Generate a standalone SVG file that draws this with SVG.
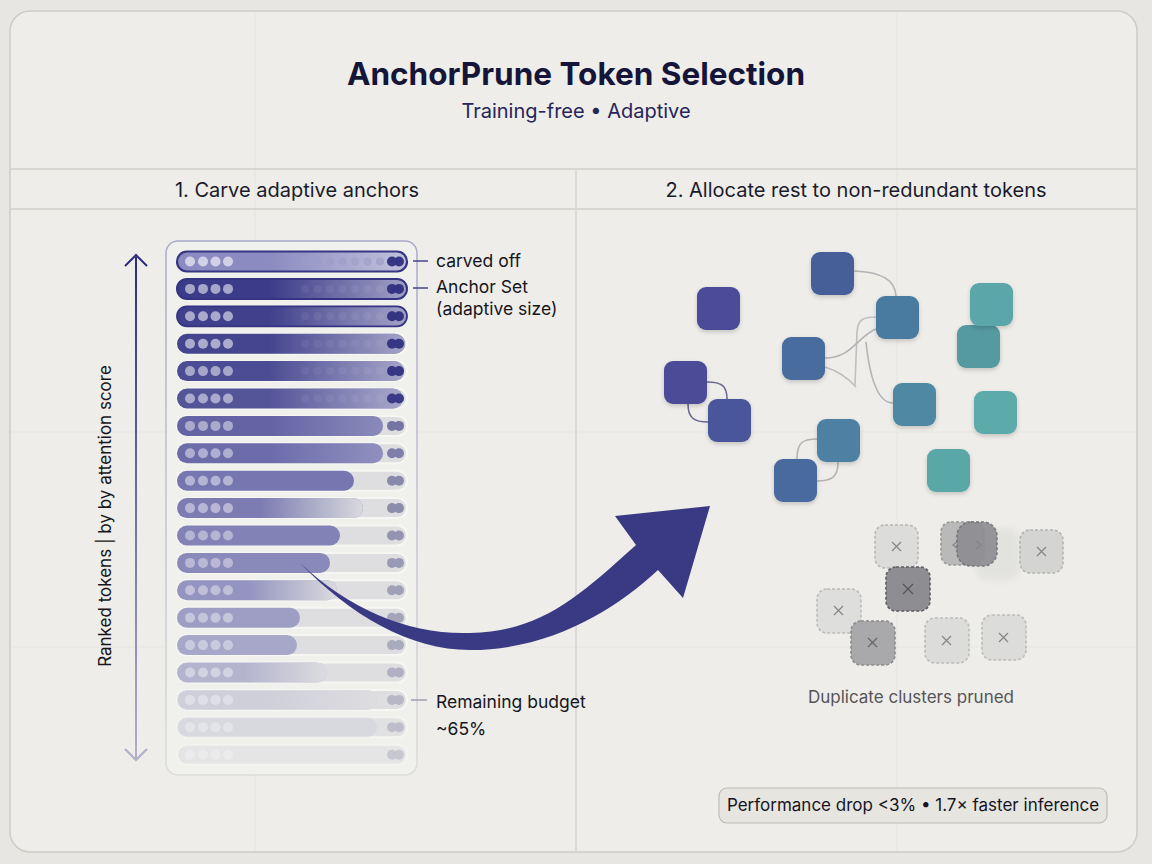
<svg xmlns="http://www.w3.org/2000/svg" xmlns:xlink="http://www.w3.org/1999/xlink" width="1152" height="864" viewBox="0 0 1152 864">
<style>
text{font-family:Inter,"Liberation Sans","DejaVu Sans",sans-serif}
.title{font-size:31.5px;font-weight:700;fill:#15153a;text-anchor:middle}
.sub{font-size:20px;fill:#25255a;text-anchor:middle}
.hdr{font-size:20px;fill:#1b1b2b;text-anchor:middle}
.lbl{font-size:17.5px;fill:#161620}
.trk{fill:#dedee0;stroke:#f6f6f3;stroke-width:2}
.nd{filter:url(#sh)}
.pr{stroke-dasharray:3 2;stroke-width:1.6}
.x{stroke:#858585;stroke-width:1.2;fill:none}
.lnk{fill:none;stroke:#b3b3b6;stroke-width:1.6}
.grid{stroke:#e6e5e1;stroke-width:1}
</style>
<defs>
<filter id="sh" x="-30%" y="-30%" width="160%" height="170%"><feDropShadow dx="0" dy="2" stdDeviation="2" flood-color="#000" flood-opacity="0.18"/></filter>
<filter id="blur"><feGaussianBlur stdDeviation="3"/></filter>
<linearGradient id="fadeFull" x1="177" y1="0" x2="407" y2="0" gradientUnits="userSpaceOnUse">
<stop offset="0.4" stop-color="#e4e4ee" stop-opacity="0"/><stop offset="1" stop-color="#e4e4ee" stop-opacity="0.6"/></linearGradient>
<linearGradient id="fadeEnd" x1="0" y1="0" x2="1" y2="0">
<stop offset="0.45" stop-color="#dedee0" stop-opacity="0"/><stop offset="1" stop-color="#dedee0" stop-opacity="0.95"/></linearGradient>
<linearGradient id="axis" x1="0" y1="255" x2="0" y2="760" gradientUnits="userSpaceOnUse">
<stop offset="0" stop-color="#2c2c7e"/><stop offset="1" stop-color="#b0b0cc"/></linearGradient>
<linearGradient id="cont" x1="0" y1="241" x2="0" y2="775" gradientUnits="userSpaceOnUse">
<stop offset="0" stop-color="#a9a9c9"/><stop offset="1" stop-color="#dcdcdc"/></linearGradient>
<g id="d4" fill="#fff"><circle cx="190" cy="0" r="5"/><circle cx="203" cy="0" r="5"/><circle cx="215.5" cy="0" r="5"/><circle cx="228" cy="0" r="5"/></g>
<g id="md"><circle cx="305" cy="0" r="4"/><circle cx="317.5" cy="0" r="4"/><circle cx="330" cy="0" r="4"/><circle cx="342.5" cy="0" r="4"/><circle cx="355" cy="0" r="4"/><circle cx="367.5" cy="0" r="4"/><circle cx="380" cy="0" r="4"/></g>
<g id="dd"><circle cx="392" cy="0" r="5"/><circle cx="399" cy="0" r="5"/></g>
</defs>

<rect width="1152" height="864" fill="#e7e6e2"/>
<rect x="10" y="11" width="1127" height="841" rx="20" fill="#eeede9" stroke="#cdccc7" stroke-width="1.5"/>
<g id="grid">
<line class="grid" x1="255" y1="12" x2="255" y2="851"/>
<line class="grid" x1="897" y1="12" x2="897" y2="851"/>
<line class="grid" x1="11" y1="432" x2="1136" y2="432"/>
<line class="grid" x1="11" y1="647" x2="1136" y2="647"/>
</g>
<line x1="11" y1="169" x2="1136" y2="169" stroke="#cfcec9" stroke-width="1.5"/>
<line x1="11" y1="209" x2="1136" y2="209" stroke="#cfcec9" stroke-width="1.5"/>
<line x1="576" y1="169" x2="576" y2="851" stroke="#d4d3ce" stroke-width="1.5"/>

<g id="header">
<text class="title" x="576" y="85">AnchorPrune Token Selection</text>
<text class="sub" x="576" y="118">Training-free • Adaptive</text>
<text class="hdr" x="297" y="197">1. Carve adaptive anchors</text>
<text class="hdr" x="856" y="197">2. Allocate rest to non-redundant tokens</text>
</g>

<g id="axis-label">
<line x1="136" y1="257" x2="136" y2="758" stroke="url(#axis)" stroke-width="2"/>
<polyline points="125,266 136,255 147,266" fill="none" stroke="#2c2c7e" stroke-width="2"/>
<polyline points="125,749 136,760 147,749" fill="none" stroke="#adadc8" stroke-width="2"/>
<text transform="translate(111,516) rotate(-90)" text-anchor="middle" style="font-size:17px;fill:#161620">Ranked tokens | by by attention score</text>
</g>

<g id="token-list">
<rect x="166" y="241" width="251" height="534" rx="12" fill="#f0f0ed" stroke="url(#cont)" stroke-width="1.5"/>
<g id="row1" transform="translate(0,261.5)">
<rect x="177" y="-10" width="230" height="20" rx="10" fill="#ececf0"/>
<rect x="177" y="-10" width="230" height="20" rx="10" fill="#8b8bc1"/>
<rect x="177" y="-10" width="230" height="20" rx="10" fill="url(#fadeFull)"/>
<rect x="177" y="-10" width="230" height="20" rx="10" fill="none" stroke="#363684" stroke-width="2.2"/>
<use href="#d4" opacity="0.6"/><use href="#md" fill="#9c9cc8" opacity="0.6"/><use href="#dd" fill="#363684"/>
</g>
<g id="row2" transform="translate(0,288.9)">
<rect x="177" y="-10" width="230" height="20" rx="10" fill="#3b3b89"/>
<rect x="177" y="-10" width="230" height="20" rx="10" fill="url(#fadeFull)"/>
<rect x="177" y="-10" width="230" height="20" rx="10" fill="none" stroke="#343482" stroke-width="2"/>
<use href="#d4" opacity="0.55"/><use href="#md" fill="#fff" opacity="0.06"/><use href="#dd" fill="#343482"/>
</g>
<g id="row3" transform="translate(0,316.3)">
<rect x="177" y="-10" width="230" height="20" rx="10" fill="#40408c"/>
<rect x="177" y="-10" width="230" height="20" rx="10" fill="url(#fadeFull)"/>
<rect x="177" y="-10" width="230" height="20" rx="10" fill="none" stroke="#343482" stroke-width="1.8"/>
<use href="#d4" opacity="0.55"/><use href="#md" fill="#fff" opacity="0.06"/><use href="#dd" fill="#343482"/>
</g>
<g id="row4" transform="translate(0,343.7)">
<rect class="trk" x="177" y="-10" width="230" height="20" rx="10"/>
<rect x="177" y="-10" width="228" height="20" rx="10" fill="#45458f"/>
<rect x="177" y="-10" width="228" height="20" rx="10" fill="url(#fadeFull)"/>
<use href="#d4" opacity="0.55"/><use href="#md" fill="#fff" opacity="0.05"/><use href="#dd" fill="#363684"/>
</g>
<g id="row5" transform="translate(0,371.1)">
<rect class="trk" x="177" y="-10" width="230" height="20" rx="10"/>
<rect x="177" y="-10" width="227" height="20" rx="10" fill="#4c4c94"/>
<rect x="177" y="-10" width="227" height="20" rx="10" fill="url(#fadeFull)"/>
<use href="#d4" opacity="0.5"/><use href="#md" fill="#fff" opacity="0.05"/><use href="#dd" fill="#363684"/>
</g>
<g id="row6" transform="translate(0,398.5)">
<rect class="trk" x="177" y="-10" width="230" height="20" rx="10"/>
<rect x="177" y="-10" width="226" height="20" rx="10" fill="#545499"/>
<rect x="177" y="-10" width="226" height="20" rx="10" fill="url(#fadeFull)"/>
<use href="#d4" opacity="0.5"/><use href="#md" fill="#fff" opacity="0.05"/><use href="#dd" fill="#3a3a86"/>
</g>
<g id="row7" transform="translate(0,425.9)">
<rect class="trk" x="177" y="-10" width="230" height="20" rx="10"/>
<rect x="177" y="-10" width="206" height="20" rx="10" fill="#6464a5"/>
<rect x="177" y="-10" width="206" height="20" rx="10" fill="url(#fadeFull)" opacity="0.6"/>
<use href="#d4" opacity="0.45"/><use href="#dd" fill="#6a6a9e" opacity="0.9"/>
</g>
<g id="row8" transform="translate(0,453.3)">
<rect class="trk" x="177" y="-10" width="230" height="20" rx="10"/>
<rect x="177" y="-10" width="206" height="20" rx="10" fill="#6c6cab"/>
<rect x="177" y="-10" width="206" height="20" rx="10" fill="url(#fadeFull)" opacity="0.6"/>
<use href="#d4" opacity="0.45"/><use href="#dd" fill="#6e6ea0" opacity="0.85"/>
</g>
<g id="row9" transform="translate(0,480.7)">
<rect class="trk" x="177" y="-10" width="230" height="20" rx="10"/>
<rect x="177" y="-10" width="177" height="20" rx="10" fill="#7676b0"/>
<use href="#d4" opacity="0.45"/><use href="#dd" fill="#74749e" opacity="0.8"/>
</g>
<g id="row10" transform="translate(0,508.1)">
<rect class="trk" x="177" y="-10" width="230" height="20" rx="10"/>
<rect x="177" y="-10" width="186" height="20" rx="10" fill="#7c7cb3"/>
<rect x="177" y="-10" width="186" height="20" rx="10" fill="url(#fadeEnd)"/>
<use href="#d4" opacity="0.45"/><use href="#dd" fill="#78789e" opacity="0.8"/>
</g>
<g id="row11" transform="translate(0,535.5)">
<rect class="trk" x="177" y="-10" width="230" height="20" rx="10"/>
<rect x="177" y="-10" width="163" height="20" rx="10" fill="#8282b6"/>
<use href="#d4" opacity="0.4"/><use href="#dd" fill="#7c7ca0" opacity="0.75"/>
</g>
<g id="row12" transform="translate(0,562.9)">
<rect class="trk" x="177" y="-10" width="230" height="20" rx="10"/>
<rect x="177" y="-10" width="153" height="20" rx="10" fill="#8a8aba"/>
<use href="#d4" opacity="0.4"/><use href="#dd" fill="#7e7ea2" opacity="0.7"/>
</g>
<g id="row13" transform="translate(0,590.3)">
<rect class="trk" x="177" y="-10" width="230" height="20" rx="10"/>
<rect x="177" y="-10" width="160" height="20" rx="10" fill="#9494c0"/>
<rect x="177" y="-10" width="160" height="20" rx="10" fill="url(#fadeEnd)"/>
<use href="#d4" opacity="0.4"/><use href="#dd" fill="#8080a2" opacity="0.65"/>
</g>
<g id="row14" transform="translate(0,617.7)">
<rect class="trk" x="177" y="-10" width="230" height="20" rx="10"/>
<rect x="177" y="-10" width="123" height="20" rx="10" fill="#9e9ec5"/>
<use href="#d4" opacity="0.4"/><use href="#dd" fill="#8080a2" opacity="0.6"/>
</g>
<g id="row15" transform="translate(0,645.1)">
<rect class="trk" x="177" y="-10" width="230" height="20" rx="10"/>
<rect x="177" y="-10" width="120" height="20" rx="10" fill="#a7a7c9"/>
<use href="#d4" opacity="0.4"/><use href="#dd" fill="#8282a4" opacity="0.55"/>
</g>
<g id="row16" transform="translate(0,672.5)">
<rect class="trk" x="177" y="-10" width="230" height="20" rx="10"/>
<rect x="177" y="-10" width="150" height="20" rx="10" fill="#b4b4cf"/>
<rect x="177" y="-10" width="150" height="20" rx="10" fill="url(#fadeEnd)"/>
<use href="#d4" opacity="0.4"/><use href="#dd" fill="#8484a6" opacity="0.5"/>
</g>
<g id="row17" transform="translate(0,699.9)">
<rect class="trk" x="177" y="-10" width="230" height="20" rx="10"/>
<rect x="177" y="-10" width="200" height="20" rx="10" fill="#c4c4d6" opacity="0.6"/>
<rect x="177" y="-10" width="200" height="20" rx="10" fill="url(#fadeEnd)"/>
<use href="#d4" opacity="0.35"/><use href="#dd" fill="#8888a8" opacity="0.45"/>
</g>
<g id="row18" transform="translate(0,727.3)">
<rect class="trk" x="177" y="-10" width="230" height="20" rx="10" opacity="0.8"/>
<rect x="177" y="-10" width="200" height="20" rx="10" fill="#cfcfdc" opacity="0.45"/>
<use href="#d4" opacity="0.3"/><use href="#dd" fill="#8c8caa" opacity="0.4"/>
</g>
<g id="row19" transform="translate(0,754.7)">
<rect class="trk" x="177" y="-10" width="230" height="20" rx="10" opacity="0.6"/>
<use href="#d4" opacity="0.25"/><use href="#dd" fill="#9090ac" opacity="0.35"/>
</g>
</g>

<g id="labels">
<text class="lbl" x="436" y="267">carved off</text>
<text class="lbl" x="436" y="293">Anchor Set</text>
<text class="lbl" x="436" y="315">(adaptive size)</text>
<text class="lbl" x="436" y="708">Remaining budget</text>
<text class="lbl" x="436" y="735">~65%</text>
</g>

<g id="connectors">
<line x1="413" y1="261" x2="428" y2="261" stroke="#44448a" stroke-width="1.5"/>
<line x1="413" y1="288" x2="428" y2="288" stroke="#44448a" stroke-width="1.5"/>
<line x1="411" y1="700" x2="427" y2="700" stroke="#a0a0b0" stroke-width="1.5"/>
<path d="M300,563 C350,610 410,635 470,633 C540,631 575,600 636,545 L615,516 L710,506 L683,598 L658,570 C615,610 550,650 470,650 C410,650 350,615 300,563 Z" fill="#393984"/>
<path class="lnk" d="M854,271 C882,272 895,280 896,296"/>
<path class="lnk" d="M825,358 C852,358 858,336 876,329"/>
<path class="lnk" d="M876,317 C862,317 858,320 857,332 L855,385" opacity="0.8"/>
<path class="lnk" d="M866,342 C870,380 878,403 893,403"/>
<path class="lnk" d="M825,367 C838,371 848,378 856,387" opacity="0.8"/>
<path fill="none" stroke="#6a6a92" stroke-width="1.6" d="M707,382 C722,382 727,386 727,399"/>
<path fill="none" stroke="#6a6a92" stroke-width="1.6" d="M688,404 C688,418 694,422 708,422"/>
<path class="lnk" d="M797,459 C797,443 802,439 817,439"/>
<path class="lnk" d="M838,462 C838,477 832,481 817,481"/>
</g>

<g id="nodes">
<rect id="n1" class="nd" x="697" y="287" width="43" height="43" rx="9" fill="#4b4c9a"/>
<rect id="n2" class="nd" x="811" y="252" width="43" height="43" rx="9" fill="#475f98"/>
<rect id="n3" class="nd" x="876" y="296" width="43" height="43" rx="9" fill="#4a7aa0"/>
<rect id="n5" class="nd" x="957" y="325" width="43" height="43" rx="9" fill="#5599a1"/>
<rect id="n4" class="nd" x="970" y="283" width="43" height="43" rx="9" fill="#5aa6a8"/>
<rect id="n6" class="nd" x="782" y="337" width="43" height="43" rx="9" fill="#486c9e"/>
<rect id="n7" class="nd" x="664" y="361" width="43" height="43" rx="9" fill="#4b4b98"/>
<rect id="n8" class="nd" x="708" y="399" width="43" height="43" rx="9" fill="#4a569c"/>
<rect id="n9" class="nd" x="893" y="383" width="43" height="43" rx="9" fill="#4f88a2"/>
<rect id="n10" class="nd" x="974" y="391" width="43" height="43" rx="9" fill="#5baaaa"/>
<rect id="n11" class="nd" x="817" y="419" width="43" height="43" rx="9" fill="#4e80a3"/>
<rect id="n12" class="nd" x="774" y="459" width="43" height="43" rx="9" fill="#4a6b9e"/>
<rect id="n13" class="nd" x="927" y="449" width="43" height="43" rx="9" fill="#5aa7a8"/>
</g>

<g id="pruned">
<g id="pa"><rect class="pr" x="875" y="525" width="43" height="43" rx="10" fill="#dcdcda" stroke="#b8b8b6"/><path class="x" d="M892,542 l9,9 M901,542 l-9,9"/></g>
<rect x="975" y="528" width="45" height="52" rx="12" fill="#dededc" opacity="0.7" filter="url(#blur)"/>
<g id="pb"><rect class="pr" x="941" y="522" width="43" height="43" rx="10" fill="#b9b9b9" stroke="#9a9a9a"/><path class="x" d="M958,541 l-5,4 l5,4"/></g>
<g id="pc"><rect class="pr" x="957" y="522" width="40" height="44" rx="14" fill="#8c8c92" stroke="#6e6e74" opacity="0.9"/><path class="x" d="M976,541 l5,4 l-5,4"/></g>
<g id="pd"><rect class="pr" x="1020" y="530" width="43" height="43" rx="10" fill="#d4d4d2" stroke="#b4b4b2"/><path class="x" d="M1037,547 l9,9 M1046,547 l-9,9"/></g>
<g id="pe"><rect class="pr" x="886" y="567" width="44" height="44" rx="10" fill="#8e8e92" stroke="#5e5e62"/><path class="x" d="M903,584 l10,10 M913,584 l-10,10" style="stroke:#555"/></g>
<g id="pf"><rect class="pr" x="817" y="589" width="44" height="44" rx="10" fill="#dededc" stroke="#bcbcba"/><path class="x" d="M834,606 l9,9 M843,606 l-9,9"/></g>
<g id="pg"><rect class="pr" x="851" y="621" width="44" height="44" rx="10" fill="#a9a9ab" stroke="#8a8a8c"/><path class="x" d="M868,638 l9,9 M877,638 l-9,9" style="stroke:#666"/></g>
<g id="ph"><rect class="pr" x="925" y="618" width="44" height="45" rx="10" fill="#dcdcda" stroke="#bcbcba"/><path class="x" d="M942,636 l9,9 M951,636 l-9,9"/></g>
<g id="pi"><rect class="pr" x="982" y="615" width="44" height="45" rx="10" fill="#dcdcda" stroke="#bcbcba"/><path class="x" d="M999,633 l9,9 M1008,633 l-9,9"/></g>
<text x="911" y="703" text-anchor="middle" style="font-size:17px;fill:#555558">Duplicate clusters pruned</text>
</g>

<g id="badge">
<rect x="719" y="788" width="388" height="35" rx="8" fill="#e6e5e0" stroke="#bdbcb7" stroke-width="1.2"/>
<text x="913" y="811" text-anchor="middle" style="font-size:17px;fill:#15151f">Performance drop &lt;3% • 1.7× faster inference</text>
</g>
</svg>
